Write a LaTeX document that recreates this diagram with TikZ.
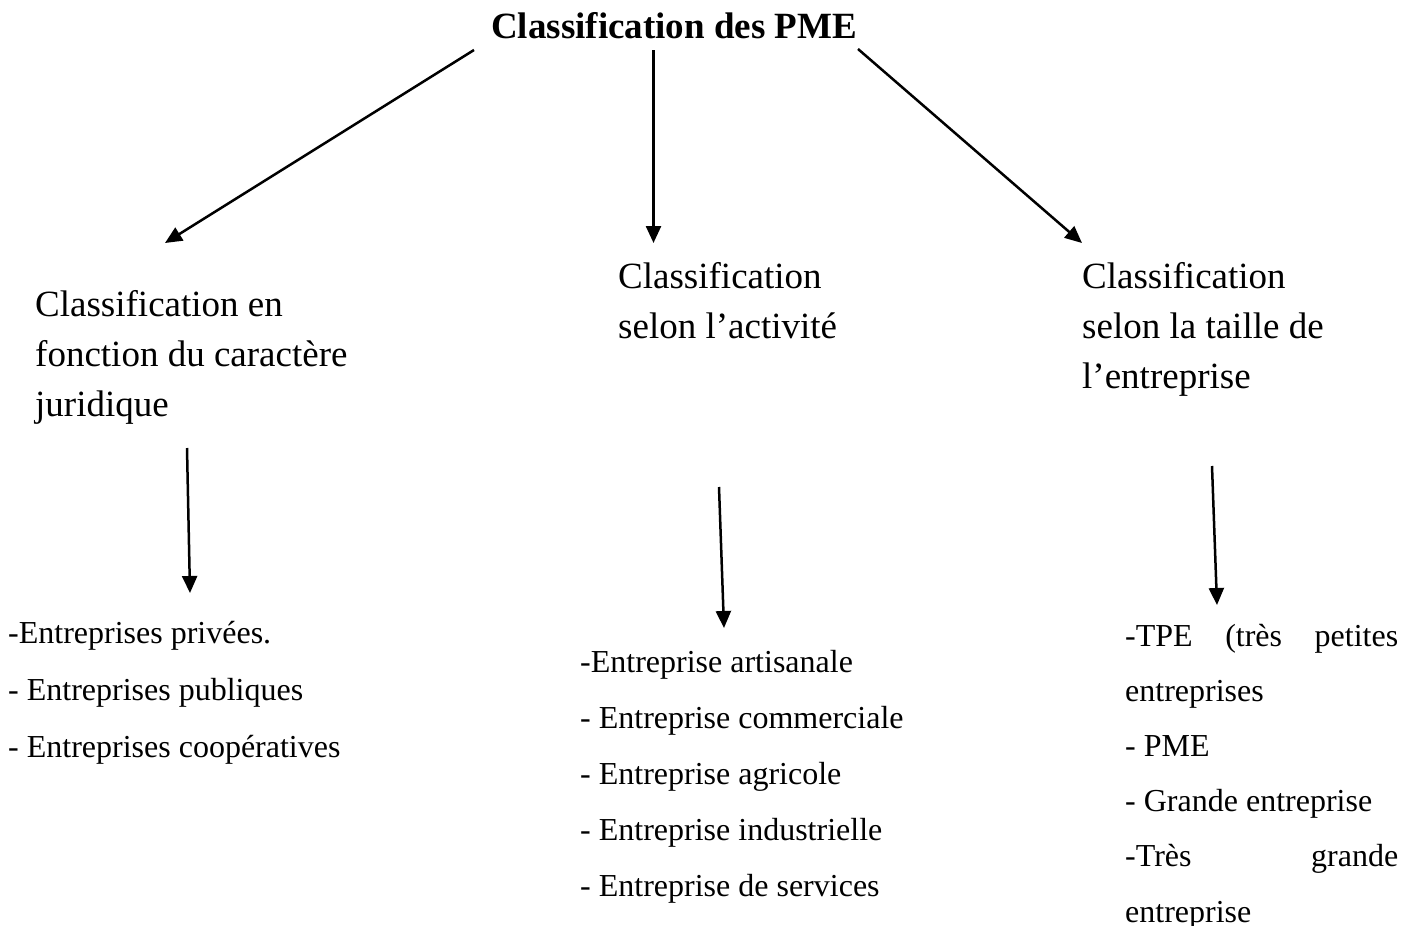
\documentclass[tikz,border=0pt]{standalone}
\usepackage{fontspec}
\setmainfont{Liberation Serif}
\usetikzlibrary{arrows.meta}
\tikzset{
  conn/.style={line width=2.5pt,-{Triangle[length=17pt,width=15pt]}},
  titletext/.style={anchor=base west,inner sep=0pt,font=\fontsize{37}{44}\selectfont\bfseries},
  block/.style={anchor=base west,inner sep=0pt},
}
\newcommand{\headblock}[2]{\begin{minipage}[t]{#1}\fontsize{37}{50}\selectfont #2\par\end{minipage}}
\newcommand{\listblock}[3]{\begin{minipage}[t]{#1}\fontsize{32}{#2}\selectfont #3\par\end{minipage}}
\begin{document}
\begin{tikzpicture}[x=1pt,y=-1pt]
\useasboundingbox[fill=white] (0,0) rectangle (1419,926);
% title
\node[titletext] (title) at (491,38) {Classification des PME};
% headings
\node[block] (hleft) at (35,316) {\headblock{400pt}{Classification en\\fonction du caractère\\juridique}};
\node[block] (hmid) at (618,288) {\headblock{400pt}{Classification\\selon l’activité}};
\node[block] (hright) at (1082,288) {\headblock{330pt}{Classification\\selon la taille de\\l’entreprise}};
% lists
\node[block] (lleft) at (8,643) {\listblock{400pt}{57}{-Entreprises privées.\\- Entreprises publiques\\- Entreprises coopératives}};
\node[block] (lmid) at (580,672) {\listblock{400pt}{56}{-Entreprise artisanale\\- Entreprise commerciale\\- Entreprise agricole\\- Entreprise industrielle\\- Entreprise de services}};
\node[block] (lright) at (1125,646) {\listblock{273pt}{55.2}{-TPE\hfill(très\hfill petites\\entreprises\\- PME\\- Grande entreprise\\-Très\hfill grande\\entreprise}};
% connector end points
\coordinate (t1) at (474,50);
\coordinate (t2) at (653.5,50);
\coordinate (t3) at (858,49);
\coordinate (e1) at (165,243);
\coordinate (e2) at (653.5,243);
\coordinate (e3) at (1082,243);
\coordinate (s4) at (187,448);
\coordinate (e4) at (190,593);
\coordinate (s5) at (719,487);
\coordinate (e5) at (724,628);
\coordinate (s6) at (1212,466);
\coordinate (e6) at (1217,605);
\draw[conn] (t1) -- (e1);
\draw[conn] (t2) -- (e2);
\draw[conn] (t3) -- (e3);
\draw[conn] (s4) -- (e4);
\draw[conn] (s5) -- (e5);
\draw[conn] (s6) -- (e6);
\end{tikzpicture}
\end{document}
